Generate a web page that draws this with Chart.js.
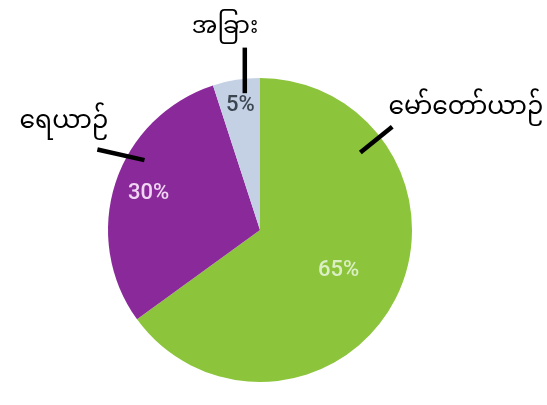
<!DOCTYPE html>
<html>
<head>
<meta charset="utf-8">
<script src="https://cdn.jsdelivr.net/npm/chart.js@4"></script>
<style>
    html, body { margin: 0; padding: 0; background: #fff; }
    #wrap { width: 547px; height: 405px; position: relative; }
</style>
</head>
<body>
<div id="wrap"><canvas id="pieChart"></canvas></div>
<script>
// chart data
const categories = ['မော်တော်ယာဉ်', 'ရေယာဉ်', 'အခြား'];
const shares = [65, 30, 5];
const sliceColors = ['#8cc43c', '#8a2a9a', '#c4d0e4'];
const pctColors = ['#dcefc4', '#f0d6f3', '#3c4650'];

// label layout, in units of the pie radius, relative to the centre
const calloutLayout = [
    { text: [1.355, -0.78], line: [[0.66, -0.51], [0.87, -0.68]] },
    { text: [-1.29, -0.69], line: [[-0.76, -0.46], [-1.07, -0.53]] },
    { text: [-0.23, -1.31], line: [[-0.10, -0.90], [-0.10, -1.20]] }
];
const pctRadius = [0.58, 0.77, 0.83];

const calloutPlugin = {
    id: 'callouts',
    afterDatasetsDraw(chart) {
        const ctx = chart.ctx;
        const arcs = chart.getDatasetMeta(0).data;
        ctx.save();
        arcs.forEach((arc, i) => {
            const { x, y, outerRadius: r, startAngle, endAngle } = arc.getProps(['x', 'y', 'outerRadius', 'startAngle', 'endAngle'], true);
            // percentage inside the slice
            const mid = (startAngle + endAngle) / 2;
            ctx.fillStyle = pctColors[i];
            ctx.font = '500 22px Roboto, "DejaVu Sans", sans-serif';
            ctx.textAlign = 'center';
            ctx.textBaseline = 'middle';
            ctx.fillText(shares[i] + '%', x + Math.cos(mid) * r * pctRadius[i], y + Math.sin(mid) * r * pctRadius[i]);

            // leader line + category name
            const lay = calloutLayout[i];
            ctx.strokeStyle = '#000';
            ctx.lineWidth = 4.5;
            ctx.beginPath();
            ctx.moveTo(x + lay.line[0][0] * r, y + lay.line[0][1] * r);
            ctx.lineTo(x + lay.line[1][0] * r, y + lay.line[1][1] * r);
            ctx.stroke();
            ctx.fillStyle = '#000';
            ctx.font = (i === 2 ? '24px' : '25px') + ' "Noto Sans Myanmar", "Padauk", "Myanmar Text", sans-serif';
            ctx.fillText(categories[i], x + lay.text[0] * r, y + lay.text[1] * r);
        });
        ctx.restore();
    }
};

new Chart(document.getElementById('pieChart'), {
    type: 'pie',
    data: {
        labels: categories,
        datasets: [{ data: shares, backgroundColor: sliceColors, borderWidth: 0 }]
    },
    options: {
        responsive: true,
        maintainAspectRatio: false,
        animation: false,
        layout: { padding: { top: 78, bottom: 23, left: 0, right: 27 } },
        plugins: { legend: { display: false }, tooltip: { enabled: false } }
    },
    plugins: [calloutPlugin]
});
</script>
</body>
</html>
